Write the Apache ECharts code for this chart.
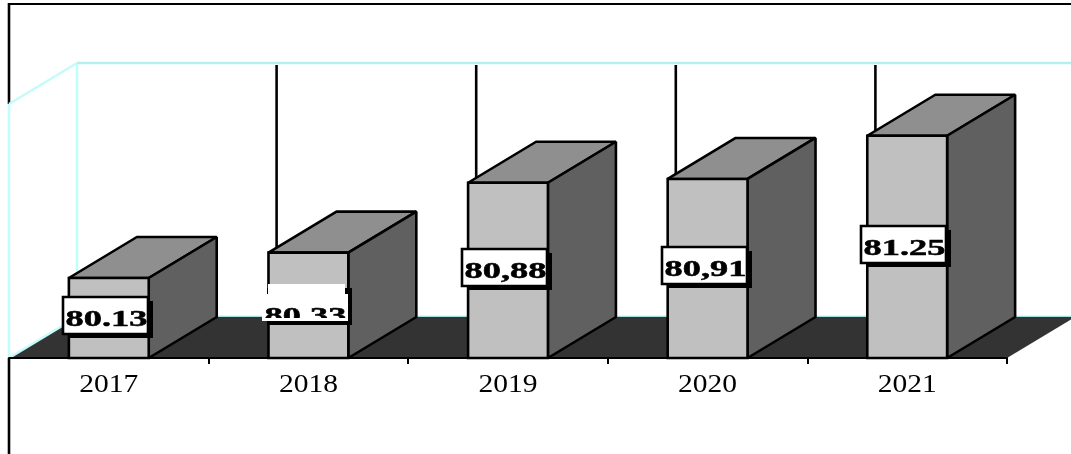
<!DOCTYPE html>
<html>
<head>
<meta charset="utf-8">
<title>chart</title>
<script src="https://cdn.jsdelivr.net/npm/echarts@6/dist/echarts.min.js"></script>
<style>
html, body { margin: 0; padding: 0; background: #fff; }
#main { width: 1071px; height: 454px; }
</style>
</head>
<body>
<div id="main"></div>
<script>
// chart data
const years = ['2017', '2018', '2019', '2020', '2021'];
const values = [80.13, 80.33, 80.88, 80.91, 81.25];
const valueLabels = ['80.13', '80.33', '80,88', '80,91', '81.25'];

// the 2018 label is broken in the original, part of the text is cut off
const brokenLabel = '80.33';

const axisMin = 79.5;
const axisMax = 81.5;

// 3d look
const depthX = 68;
const depthY = 41;
const wallColor = '#c4fbfb';
const wallBottomColor = '#a0e0e0';
const thick = 2.6;

function line(x1, y1, x2, y2, color, width) {
  return {
    type: 'line',
    shape: { x1, y1, x2, y2 },
    style: { stroke: color, lineWidth: width }
  };
}

function poly(points, fill) {
  return {
    type: 'polygon',
    shape: { points },
    style: { fill, stroke: null }
  };
}

// frame, floor, walls, vertical grid lines
function renderBackground(params, api) {
  const { x, y, width, height } = params.coordSys;
  const bottom = y + height;
  const band = width / years.length;
  const children = [
    line(9, 4, 1071, 4, '#000', 2.2),
    line(9, 3, 9, y, '#000', thick),
    line(9, bottom, 9, 454, '#000', thick),
    line(x + depthX, bottom - depthY, 1071, bottom - depthY, wallBottomColor, thick),
    poly([
      [x, bottom],
      [x + width, bottom],
      [x + width + depthX, bottom - depthY],
      [x + depthX, bottom - depthY]
    ], '#333333'),
    line(x, y, x, bottom, wallColor, thick),
    line(x, y, x + depthX, y - depthY, wallColor, thick),
    line(x, bottom, x + depthX, bottom - depthY, wallColor, thick),
    line(x + depthX, y - depthY, x + depthX, bottom - depthY, wallColor, thick),
    line(x + depthX, y - depthY, 1071, y - depthY, '#b4f0f0', thick)
  ];
  for (let i = 1; i < years.length; i++) {
    const lx = x + band * i + depthX;
    children.push(line(lx, y - depthY + 2, lx, bottom - depthY, '#000', thick));
  }
  return { type: 'group', children };
}

function valueText(text, cx, cy, clipBottom) {
  const el = {
    type: 'text',
    x: cx,
    y: cy,
    scaleX: 1.58,
    style: {
      text,
      align: 'center',
      verticalAlign: 'middle',
      fill: '#000',
      stroke: '#000',
      lineWidth: 0.5,
      font: 'bold 23px "Liberation Serif"'
    }
  };
  if (clipBottom == null) return el;
  return {
    type: 'group',
    clipPath: { type: 'rect', shape: { x: cx - 60, y: cy - 30, width: 120, height: clipBottom - cy + 30 } },
    children: [el]
  };
}

function renderBar(params, api) {
  const idx = api.value(0);
  const top = api.coord([idx, api.value(1)]);
  const base = api.coord([idx, axisMin]);
  const barW = api.size([1, 0])[0] * 0.4;
  const l = top[0] - barW / 2;
  const r = top[0] + barW / 2;
  const t = top[1];
  const b = base[1];
  const barStroke = { stroke: '#000', lineWidth: thick, lineJoin: 'bevel' };

  const children = [
    {
      type: 'polygon',
      shape: { points: [[l, t], [r, t], [r + depthX, t - depthY], [l + depthX, t - depthY]] },
      style: { fill: '#8f8f8f', ...barStroke }
    },
    {
      type: 'polygon',
      shape: { points: [[r, t], [r + depthX, t - depthY], [r + depthX, b - depthY], [r, b]] },
      style: { fill: '#606060', ...barStroke }
    },
    {
      type: 'rect',
      shape: { x: l, y: t, width: r - l, height: b - t },
      style: { fill: '#c0c0c0', stroke: '#000', lineWidth: thick }
    }
  ];

  // value label box sits in the middle of the front face
  const text = valueLabels[idx];
  const boxW = 85;
  const boxH = 37;
  const boxX = Math.round(top[0] - 46);
  const boxY = Math.round((t + b) / 2 - 21);
  const midX = boxX + boxW / 2;
  children.push({
    type: 'rect',
    shape: { x: boxX + 5, y: boxY + 4, width: boxW, height: boxH },
    style: { fill: '#000' }
  });
  if (text === brokenLabel) {
    children.push({
      type: 'rect',
      shape: { x: boxX + 6, y: boxY, width: boxW - 8, height: 12 },
      style: { fill: '#fff' }
    });
    children.push({
      type: 'rect',
      shape: { x: boxX, y: boxY + 10, width: boxW + 1, height: boxH - 10 },
      style: { fill: '#fff' }
    });
    children.push(valueText(text, midX + 1, boxY + 33, boxY + 34));
  } else {
    children.push({
      type: 'rect',
      shape: { x: boxX, y: boxY, width: boxW, height: boxH },
      style: { fill: '#fff', stroke: '#000', lineWidth: thick }
    });
    children.push(valueText(text, midX + 1, boxY + 23));
  }
  return { type: 'group', children };
}

// year under each bar, stretched like in the original
function renderYear(params, api) {
  const idx = api.value(0);
  const base = api.coord([idx, axisMin]);
  return {
    type: 'text',
    x: base[0],
    y: base[1] + 27,
    scaleX: 1.135,
    style: {
      text: years[idx],
      align: 'center',
      verticalAlign: 'middle',
      fill: '#000',
      font: '26px "Liberation Serif"'
    }
  };
}

const chart = echarts.init(document.getElementById('main'), null, { renderer: 'canvas' });
const barData = values.map((v, i) => [i, v]);

chart.setOption({
  animation: false,
  backgroundColor: '#fff',
  grid: { left: 9, top: 104, width: 998, height: 254, containLabel: false },
  xAxis: {
    type: 'category',
    data: years,
    axisLine: { show: true, lineStyle: { color: '#000', width: 2 } },
    axisTick: { show: true, inside: false, length: 6, lineStyle: { color: '#000', width: 2 } },
    axisLabel: { show: false },
    splitLine: { show: false },
    z: 5
  },
  yAxis: { type: 'value', min: axisMin, max: axisMax, show: false },
  series: [
    { type: 'custom', z: 1, silent: true, data: [[0, axisMin]], renderItem: renderBackground },
    { type: 'custom', z: 3, silent: true, data: barData, renderItem: renderBar },
    { type: 'custom', z: 3, silent: true, data: barData, renderItem: renderYear }
  ]
});
</script>
</body>
</html>
